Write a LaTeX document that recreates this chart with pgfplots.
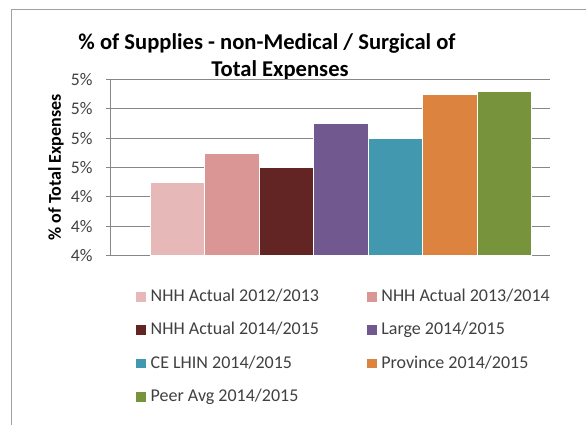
\documentclass[border=0pt]{standalone}
\usepackage{pgfplots}
\pgfplotsset{compat=1.18}
\usepackage{fontspec}
\setmainfont{Carlito}
\definecolor{c1}{HTML}{E6B9B8}
\definecolor{c2}{HTML}{D99694}
\definecolor{c3}{HTML}{632523}
\definecolor{c4}{HTML}{71588F}
\definecolor{c5}{HTML}{4198AF}
\definecolor{c6}{HTML}{DC843F}
\definecolor{c7}{HTML}{77933C}
\definecolor{gridc}{HTML}{878787}
\definecolor{framec}{HTML}{A0A0A0}
\definecolor{txt}{HTML}{404040}
\begin{document}
\begin{tikzpicture}
\useasboundingbox (0,0) rectangle (586bp,425bp);
\draw[color=framec, line width=1.2bp] (11.8bp,0) -- (11.8bp,415.7bp) -- (586bp,415.7bp);
\node[anchor=base, font=\fontsize{22.6bp}{27bp}\selectfont\bfseries] at (267bp,375.7bp) {\% of Supplies - non-Medical / Surgical of};
\node[anchor=base, font=\fontsize{22.6bp}{27bp}\selectfont\bfseries] at (280bp,348.3bp) {Total Expenses};
\begin{axis}[
  at={(110bp,169.3bp)}, anchor=south west,
  scale only axis, width=440bp, height=176.4bp,
  xmin=110, xmax=550, ymin=4, ymax=5.2,
  axis x line=bottom, axis y line=left,
  axis line style={-, draw=gridc, line width=0.8bp},
  xtick=\empty,
  ytick={4,4.2,4.4,4.6,4.8,5,5.2},
  yticklabels={4\%,4\%,4\%,5\%,5\%,5\%,5\%},
  tick align=outside, major tick length=4bp,
  ytick style={draw=gridc, line width=0.8bp},
  yticklabel style={font=\fontsize{17.7bp}{21bp}\selectfont, text=txt, anchor=east, inner sep=0pt, xshift=-13.3bp},
  ymajorgrids, grid style={draw=gridc, line width=0.8bp},
  ylabel={\% of Total Expenses},
  ylabel style={at={(axis description cs:-0.1227,0.5)}, anchor=center, font=\fontsize{18bp}{21bp}\selectfont\bfseries},
  ybar, bar width=54.5,
  legend image code/.code={\path[#1, draw=none] (0bp,0bp) rectangle (10bp,9.5bp);},
  legend columns=2,
  legend cell align=left,
  legend style={draw=none, fill=none, inner sep=0pt, outer sep=0pt,
    at={(0.0591,-0.1927)}, anchor=north west,
    font=\fontsize{18bp}{21bp}\selectfont, text=txt,
    column sep=4.7bp, row sep=17.3bp,
    nodes={inner sep=0pt, text height=12bp, text depth=4bp, anchor=base west},
    /tikz/every even column/.append style={column sep=47.6bp}},
]
\addplot[bar shift=0pt, fill=c1, draw=white, line width=0.5bp] coordinates {(177.2,4.50)};
\addlegendentry{NHH Actual 2012/2013}
\addplot[bar shift=0pt, fill=c2, draw=white, line width=0.5bp] coordinates {(231.7,4.70)};
\addlegendentry{NHH Actual 2013/2014}
\addplot[bar shift=0pt, fill=c3, draw=white, line width=0.5bp] coordinates {(286.2,4.60)};
\addlegendentry{NHH Actual 2014/2015}
\addplot[bar shift=0pt, fill=c4, draw=white, line width=0.5bp] coordinates {(340.7,4.90)};
\addlegendentry{Large 2014/2015}
\addplot[bar shift=0pt, fill=c5, draw=white, line width=0.5bp] coordinates {(395.2,4.80)};
\addlegendentry{CE LHIN 2014/2015}
\addplot[bar shift=0pt, fill=c6, draw=white, line width=0.5bp] coordinates {(449.7,5.10)};
\addlegendentry{Province 2014/2015}
\addplot[bar shift=0pt, fill=c7, draw=white, line width=0.5bp] coordinates {(504.2,5.12)};
\addlegendentry{Peer Avg 2014/2015}
\end{axis}
\end{tikzpicture}
\end{document}
